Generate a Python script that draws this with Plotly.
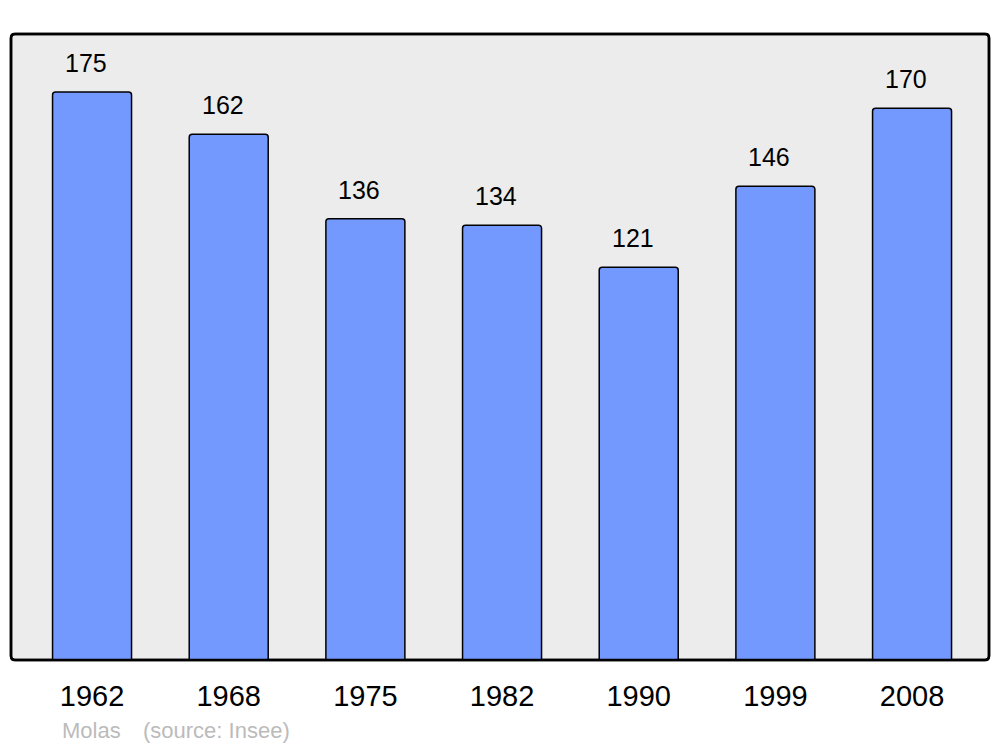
"""Population of Molas by census year, bar chart."""

import plotly.graph_objects as go

years = ["1962", "1968", "1975", "1982", "1990", "1999", "2008"]
population = [175, 162, 136, 134, 121, 146, 170]
commune = "Molas"
source = "(source: Insee)"

# page body has an 8px default margin, so the figure is a bit smaller
W, H = 992, 739
L, R, T, B = 3, 11, 26, 87

positions = list(range(len(years)))

fig = go.Figure()
fig.add_trace(go.Bar(
    x=positions,
    y=population,
    width=0.578,
    marker=dict(color="#7399ff", line=dict(color="#000000", width=1.5), cornerradius=3),
    hoverinfo="x+y",
))

for x, v in zip(positions, population):
    fig.add_annotation(
        x=x, y=v, text=str(v), showarrow=False,
        yanchor="middle", yshift=29, xshift=-6,
        font=dict(family="Liberation Sans, Arial", size=25, color="#000000"),
    )

# rounded frame around the plot area
pw, ph = W - L - R, H - T - B
rx, ry = 4 / pw, 4 / ph
frame = (
    f"M {rx},0 L {1-rx},0 Q 1,0 1,{ry} L 1,{1-ry} Q 1,1 {1-rx},1 "
    f"L {rx},1 Q 0,1 0,{1-ry} L 0,{ry} Q 0,0 {rx},0 Z"
)
fig.add_shape(type="path", path=frame, xref="paper", yref="paper",
              fillcolor="#ececec", line=dict(color="#000000", width=2.5), layer="below")
fig.add_shape(type="path", path=frame, xref="paper", yref="paper",
              fillcolor="rgba(0,0,0,0)", line=dict(color="#000000", width=2.5), layer="above")

cap_y = (660 - 730) / ph
fig.add_annotation(x=(60 - 11) / pw, y=cap_y, xref="paper", yref="paper",
                   xanchor="left", yanchor="middle", showarrow=False, text=commune,
                   font=dict(family="Liberation Sans, Arial", size=22, color="#bbbbbb"))
fig.add_annotation(x=(141 - 11) / pw, y=cap_y, xref="paper", yref="paper",
                   xanchor="left", yanchor="middle", showarrow=False, text=source,
                   font=dict(family="Liberation Sans, Arial", size=22, color="#bbbbbb"))

fig.update_layout(
    width=W, height=H,
    margin=dict(l=L, r=R, t=T, b=B),
    paper_bgcolor="#ffffff",
    plot_bgcolor="rgba(0,0,0,0)",
    showlegend=False,
    xaxis=dict(
        range=[-0.593, 6.563],
        tickvals=positions, ticktext=years,
        ticks="outside", ticklen=10, tickcolor="rgba(0,0,0,0)",
        tickfont=dict(family="Liberation Sans, Arial", size=29, color="#000000"),
        showgrid=False, zeroline=False, showline=False,
    ),
    yaxis=dict(
        range=[0, 192.9],
        showticklabels=False, showgrid=False, zeroline=False, showline=False,
    ),
)

fig.write_html("out.html")
